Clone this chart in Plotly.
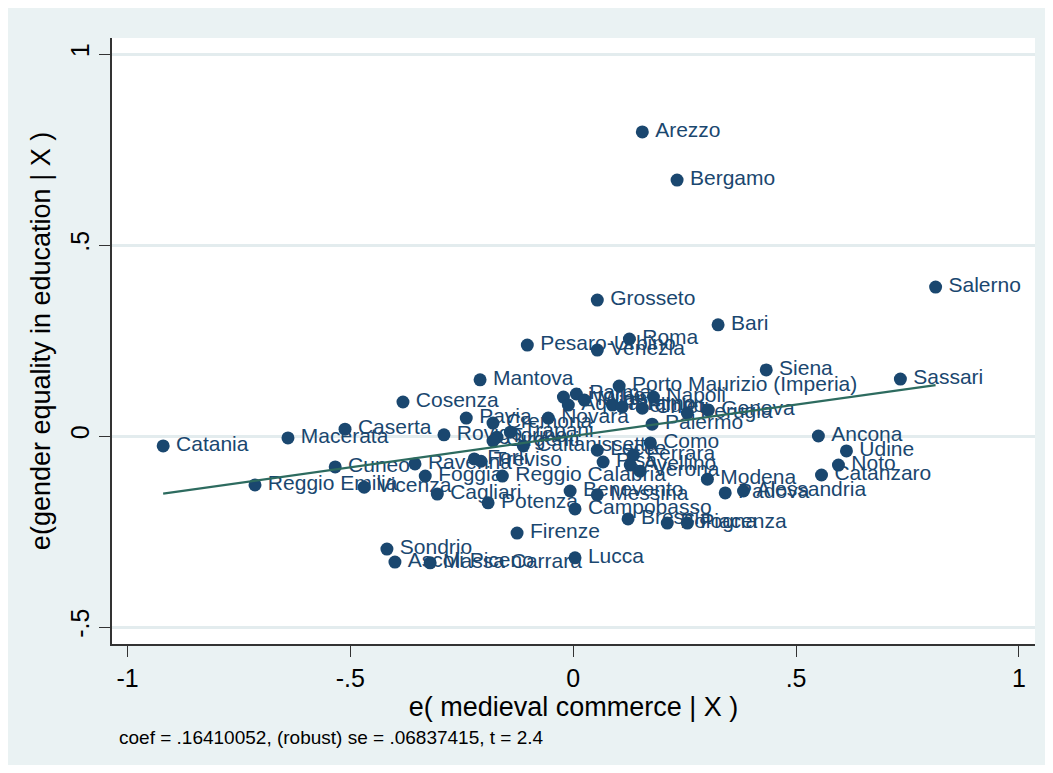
import plotly.graph_objects as go

provinces = [
    "Arezzo", "Bergamo", "Salerno", "Grosseto", "Bari", "Roma", "Venezia",
    "Pesaro-Urbino", "Siena", "Sassari", "Mantova", "Porto Maurizio (Imperia)",
    "Cosenza", "Ancona", "Udine", "Noto", "Catanzaro", "Catania", "Macerata",
    "Caserta", "Reggio Emilia", "Cuneo", "Vicenza", "Ravenna", "Foggia",
    "Cagliari", "Forlì", "Treviso", "Reggio Calabria", "Potenza", "Pavia",
    "Rovigo", "Cremona", "Torino", "Trapani", "Girgenti", "Novara", "Palermo",
    "Livorno", "Parma", "Aquila", "Milano", "Teramo", "Belluno", "Chieti",
    "Napoli", "Perugia", "Genova", "Caltanissetta", "Lecce", "Pisa", "Ferrara",
    "Avellino", "Verona", "Como", "Modena", "Padova", "Alessandria",
    "Benevento", "Messina", "Campobasso", "Brescia", "Bologna", "Piacenza",
    "Firenze", "Lucca", "Sondrio", "Ascoli Piceno", "Massa Carrara",
]

medieval_commerce = [
    0.155, 0.233, 0.813, 0.054, 0.325, 0.126, 0.054,
    -0.103, 0.433, 0.734, -0.209, 0.103,
    -0.382, 0.550, 0.613, 0.595, 0.557, -0.920, -0.640,
    -0.512, -0.714, -0.534, -0.469, -0.355, -0.332,
    -0.305, -0.222, -0.207, -0.159, -0.191, -0.240,
    -0.290, -0.180, -0.171, -0.141, -0.180, -0.056, 0.177,
    -0.022, 0.007, -0.011, 0.025, 0.088, 0.110, 0.155,
    0.180, 0.256, 0.303, -0.112, 0.054, 0.067, 0.135,
    0.128, 0.150, 0.173, 0.301, 0.341, 0.382,
    -0.007, 0.054, 0.004, 0.123, 0.211, 0.256,
    -0.126, 0.004, -0.418, -0.400, -0.321,
]

gender_equality = [
    0.796, 0.670, 0.390, 0.356, 0.291, 0.254, 0.225,
    0.238, 0.173, 0.149, 0.147, 0.131,
    0.089, 0.000, -0.039, -0.076, -0.102, -0.026, -0.005,
    0.018, -0.128, -0.081, -0.134, -0.073, -0.105,
    -0.152, -0.060, -0.066, -0.105, -0.175, 0.047,
    0.003, 0.034, -0.003, 0.010, -0.013, 0.047, 0.031,
    0.102, 0.110, 0.081, 0.094, 0.081, 0.076, 0.073,
    0.102, 0.060, 0.068, -0.026, -0.037, -0.068, -0.050,
    -0.076, -0.092, -0.018, -0.113, -0.149, -0.144,
    -0.144, -0.154, -0.191, -0.217, -0.228, -0.228,
    -0.254, -0.319, -0.296, -0.330, -0.332,
]

coef = 0.16410052
se = 0.06837415
t_stat = 2.4

x_ticks = [-1, -0.5, 0, 0.5, 1]
x_tick_labels = ["-1", "-.5", "0", ".5", "1"]
y_ticks = [-0.5, 0, 0.5, 1]
y_tick_labels = ["-.5", "0", ".5", "1"]

NAVY = "#1A476F"
GREEN = "#2D6B5F"
BG = "#EAF2F3"
FONT = "Liberation Sans, Arial, sans-serif"

fig = go.Figure()

# dots
fig.add_trace(go.Scatter(
    x=medieval_commerce, y=gender_equality,
    mode="markers", marker=dict(color=NAVY, size=13),
    cliponaxis=False, showlegend=False, hoverinfo="skip",
))
# labels (invisible larger markers to push text a little further right)
fig.add_trace(go.Scatter(
    x=medieval_commerce, y=gender_equality, text=provinces,
    mode="markers+text", textposition="middle right",
    marker=dict(color="rgba(0,0,0,0)", size=19),
    textfont=dict(color=NAVY, size=21, family=FONT),
    cliponaxis=False, showlegend=False, hoverinfo="skip",
))

xmin, xmax = min(medieval_commerce), max(medieval_commerce)
fig.add_trace(go.Scatter(
    x=[xmin, xmax], y=[coef * xmin, coef * xmax],
    mode="lines", line=dict(color=GREEN, width=2.2),
    showlegend=False, hoverinfo="skip",
))

note = (f"coef = {coef:.8f}".replace("0.", ".", 1)
        + f", (robust) se = {se:.8f}".replace("0.", ".", 1)
        + f", t = {t_stat}")

fig.update_layout(
    width=1037, height=757,
    margin=dict(l=104, r=10, t=30, b=121),
    paper_bgcolor=BG, plot_bgcolor="white",
    font=dict(family=FONT, color="black"),
    annotations=[
        dict(text=note, xref="paper", yref="paper", x=0.0054, y=-0.1535,
             xanchor="left", yanchor="middle", showarrow=False,
             font=dict(size=19, family=FONT, color="black")),
    ],
)

fig.update_xaxes(
    range=[-1.0348, 1.036], tickvals=x_ticks, ticktext=x_tick_labels,
    showgrid=False, zeroline=False, showline=True, linecolor="#333333",
    linewidth=1.5, ticks="outside", ticklen=11, tickcolor="#333333",
    tickwidth=1.2, tickfont=dict(size=25, family=FONT),
    title=dict(text="e( medieval commerce | X )", font=dict(size=27, family=FONT),
               standoff=4),
)
fig.update_yaxes(
    range=[-0.5445, 1.042], tickvals=y_ticks, ticktext=y_tick_labels,
    showgrid=True, gridcolor="#E3ECEE", gridwidth=2.5, zeroline=False,
    showline=True, linecolor="#333333", linewidth=1.5, ticks="outside",
    ticklen=11, tickcolor="#333333", tickwidth=1.2, tickangle=-90,
    tickfont=dict(size=25, family=FONT),
    title=dict(text="e(gender equality in education | X )",
               font=dict(size=27, family=FONT), standoff=8),
)

fig.write_html("out.html")
